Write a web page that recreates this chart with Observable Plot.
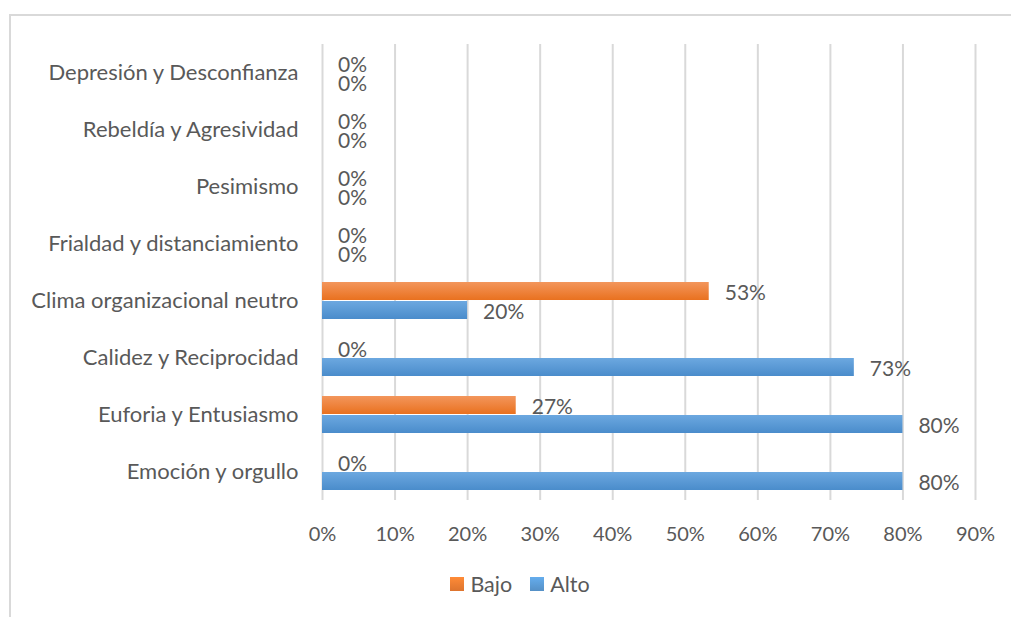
<!DOCTYPE html>
<html>
<head>
<meta charset="utf-8">
<script src="https://cdn.jsdelivr.net/npm/d3@7"></script>
<script src="https://cdn.jsdelivr.net/npm/@observablehq/plot@0.6"></script>
<style>
  html, body { margin: 0; padding: 0; background: #fff; }
  #wrap { position: relative; width: 1011px; height: 617px; overflow: hidden; font-family: Lato, "Open Sans", sans-serif; }
  #frame { position: absolute; left: 9px; top: 14px; width: 1100px; height: 700px; border: 2px solid #d9d9d9; box-sizing: border-box; }
  #chart { position: absolute; left: 0; top: 0; }
  #legend { position: absolute; left: 0; width: 1011px; top: 571px; display: flex; justify-content: center; align-items: center; font-size: 21.5px; color: #595959; padding-left: 29px; box-sizing: border-box; }
  .sw { display: inline-block; width: 14px; height: 14px; margin-right: 6px; }
  .item { display: flex; align-items: center; margin: 0 9px; }
</style>
</head>
<body>
<div id="wrap">
  <div id="frame"></div>
  <div id="chart"></div>
  <div id="legend"></div>
</div>
<script>
const categories = [
  "Depresión y Desconfianza",
  "Rebeldía y Agresividad",
  "Pesimismo",
  "Frialdad y distanciamiento",
  "Clima organizacional neutro",
  "Calidez y Reciprocidad",
  "Euforia y Entusiasmo",
  "Emoción y orgullo"
];
const series = ["Bajo", "Alto"];
const bajo = [0, 0, 0, 0, 0.533, 0, 0.267, 0];
const alto = [0, 0, 0, 0, 0.20, 0.733, 0.80, 0.80];
const xTicks = [0, 0.1, 0.2, 0.3, 0.4, 0.5, 0.6, 0.7, 0.8, 0.9];
const colors = {Bajo: "#ED7D31", Alto: "#5B9BD5"};
const gradients = {Bajo: "url(#gBajo)", Alto: "url(#gAlto)"};

const data = [];
categories.forEach((c, i) => {
  data.push({cat: c, series: "Bajo", value: bajo[i]});
  data.push({cat: c, series: "Alto", value: alto[i]});
});

const fmt = d3.format(".0%");
const textColor = "#595959";

const chart = Plot.plot({
  width: 1011,
  height: 617,
  marginLeft: 322,
  marginRight: 36,
  marginTop: 43,
  marginBottom: 117,
  style: {fontFamily: "Lato, 'Open Sans', sans-serif", fontSize: "20px", color: textColor, background: "transparent", overflow: "visible"},
  x: {domain: [0, 0.9], ticks: xTicks, tickFormat: fmt, label: null},
  y: {domain: series, paddingInner: 0.05, paddingOuter: 0.5, axis: null},
  fy: {domain: categories, padding: 0, label: null},
  facet: {data: data, y: "cat"},
  marks: [
    Plot.gridX(xTicks, {stroke: "#d9d9d9", strokeOpacity: 1, strokeWidth: 2}),
    Plot.axisX({ticks: xTicks, tickFormat: fmt, tickSize: 0, tickPadding: 26, label: null, fill: textColor, fontSize: 20, facetAnchor: "bottom"}),
    Plot.axisFy({tickSize: 0, tickPadding: 24, label: null, fill: textColor, fontSize: 22, anchor: "left"}),
    Plot.barX(data.filter(d => d.series === "Bajo"), {x: "value", y: "series", fy: "cat", fill: gradients.Bajo}),
    Plot.barX(data.filter(d => d.series === "Alto"), {x: "value", y: "series", fy: "cat", fill: gradients.Alto}),
    Plot.text(data, {x: "value", y: "series", fy: "cat", text: d => fmt(d.value), textAnchor: "start", dx: 15.5, dy: 1.5, fill: textColor, fontSize: 21})
  ]
});

// gradients
const ns = "http://www.w3.org/2000/svg";
const defs = document.createElementNS(ns, "defs");
function grad(id, top, bottom) {
  const g = document.createElementNS(ns, "linearGradient");
  g.setAttribute("id", id);
  g.setAttribute("x1", "0"); g.setAttribute("y1", "0");
  g.setAttribute("x2", "0"); g.setAttribute("y2", "1");
  [[0, top], [1, bottom]].forEach(([o, c]) => {
    const s = document.createElementNS(ns, "stop");
    s.setAttribute("offset", o);
    s.setAttribute("stop-color", c);
    g.appendChild(s);
  });
  defs.appendChild(g);
}
grad("gBajo", "#F3965C", "#E9711F");
grad("gAlto", "#6CA8E0", "#4A8CCB");
chart.insertBefore(defs, chart.firstChild);

document.getElementById("chart").appendChild(chart);

const legend = document.getElementById("legend");
series.forEach(s => {
  const item = document.createElement("div");
  item.className = "item";
  const sw = document.createElement("span");
  sw.className = "sw";
  sw.style.background = `linear-gradient(${d3.color(colors[s]).brighter(0.3)}, ${d3.color(colors[s]).darker(0.2)})`;
  const t = document.createElement("span");
  t.textContent = s;
  item.appendChild(sw);
  item.appendChild(t);
  legend.appendChild(item);
});
</script>
</body>
</html>
